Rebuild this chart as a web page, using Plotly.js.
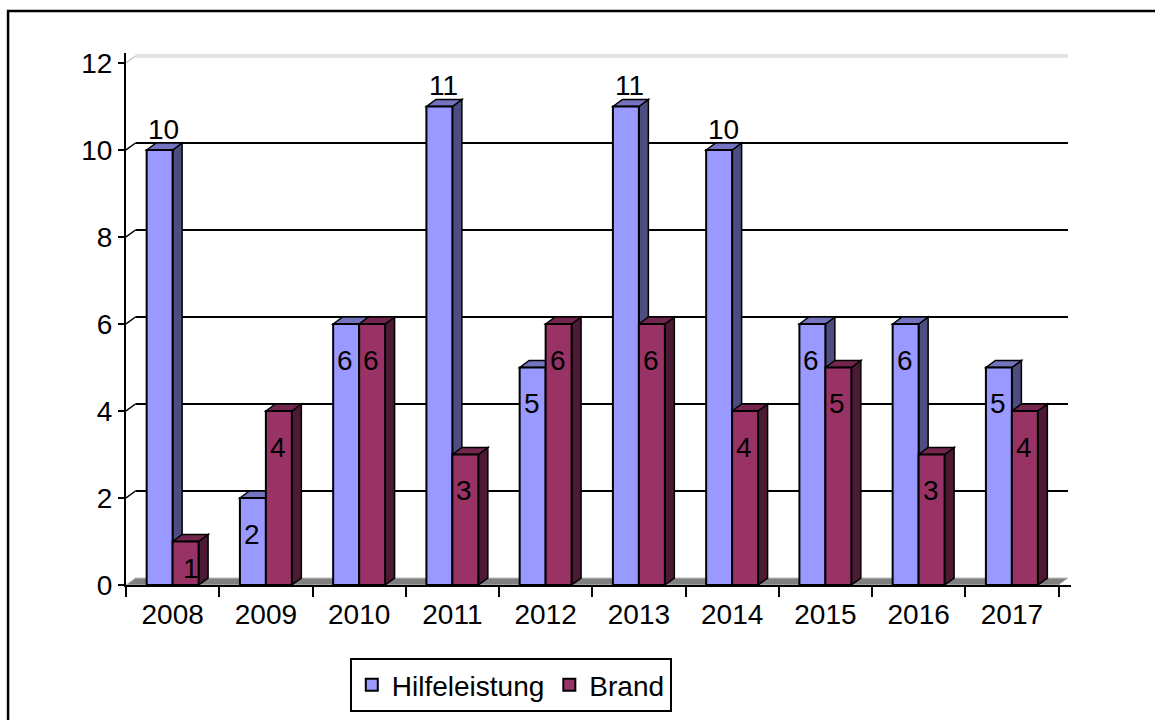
<!DOCTYPE html>
<html>
<head>
<meta charset="utf-8">
<script src="https://cdn.plot.ly/plotly-3.0.1.min.js"></script>
<style>html,body{margin:0;padding:0;background:#fff}#chart{width:1155px;height:720px}</style>
</head>
<body>
<div id="chart"></div>
<script>
// ---- data ----
const years = ['2008','2009','2010','2011','2012','2013','2014','2015','2016','2017'];
const hilfeleistung = [10, 2, 6, 11, 5, 11, 10, 6, 6, 5];
const brand = [1, 4, 6, 3, 6, 6, 4, 5, 3, 4];
const yTicks = [0, 2, 4, 6, 8, 10, 12];
const seriesNames = ['Hilfeleistung', 'Brand'];

// ---- style / geometry ----
const W = 1155, H = 720;
const L = 126, B = 135;
const catPx = 93.3, unitPx = 43.5;
const depthXPx = 9.5, depthYPx = 7, padPx = 3;
const nCat = years.length;
const yMax = yTicks[yTicks.length - 1];
const plotW = nCat * catPx + depthXPx + padPx;
const plotH = yMax * unitPx + depthYPx + padPx;
const R = W - L - plotW;
const T = H - B - plotH;
const dxU = depthXPx / catPx;
const dyU = depthYPx / unitPx;
const xRange = [-0.5, nCat - 0.5 + (depthXPx + padPx) / catPx];
const yRange = [0, yMax + (depthYPx + padPx) / unitPx];
const bargap = 0.443;
const bw = (1 - bargap) / 2;

const FONT = 'Arial, "Liberation Sans", sans-serif';
const FS = 28;
const colors = {
  front: ['#9999FF', '#993366'],
  side:  ['#4D4D80', '#4D1A33'],
  top:   ['#7373BF', '#73264D']
};

const idx = years.map((_, i) => i);
const allSeries = [hilfeleistung, brand];

const traces = allSeries.map((vals, s) => ({
  type: 'bar',
  name: seriesNames[s],
  x: idx,
  y: vals,
  marker: { color: colors.front[s], line: { color: '#000', width: 2 } },
  hoverinfo: 'x+y'
}));

const shapes = [];
// back-wall gridlines
yTicks.forEach(v => {
  if (v === 0) return;
  if (v === yMax) {
    shapes.push({ type: 'line', layer: 'below', xref: 'x', yref: 'y',
      x0: -0.5 + dxU, x1: nCat - 0.5 + dxU, y0: v + dyU, y1: v + dyU,
      line: { color: '#C8C8C8', width: 3 } });
    shapes.push({ type: 'line', layer: 'below', xref: 'x', yref: 'y',
      x0: -0.5 + dxU, x1: nCat - 0.5 + dxU, y0: v + dyU, y1: v + dyU,
      line: { color: '#FFFFFF', width: 1 } });
    shapes.push({ type: 'line', layer: 'below', xref: 'x', yref: 'y',
      x0: -0.5, x1: -0.5 + dxU, y0: v, y1: v + dyU,
      line: { color: '#C8C8C8', width: 1.5 } });
  } else {
    shapes.push({ type: 'line', layer: 'below', xref: 'x', yref: 'y',
      x0: -0.5 + dxU, x1: nCat - 0.5 + dxU, y0: v + dyU, y1: v + dyU,
      line: { color: '#000', width: 2 } });
    shapes.push({ type: 'line', layer: 'below', xref: 'x', yref: 'y',
      x0: -0.5, x1: -0.5 + dxU, y0: v, y1: v + dyU,
      line: { color: '#000', width: 1.5 } });
  }
});
// floor
shapes.push({ type: 'path', layer: 'below', xref: 'x', yref: 'y',
  path: `M ${-0.5},0 L ${-0.5 + dxU},${dyU} L ${nCat - 0.5 + dxU},${dyU} L ${nCat - 0.5},0 Z`,
  fillcolor: '#808080', line: { color: '#C0C0C0', width: 1 } });

// 3D faces of the bars
allSeries.forEach((vals, s) => {
  vals.forEach((v, i) => {
    const c = i + (s === 0 ? -bw / 2 : bw / 2);
    const xl = c - bw / 2, xr = c + bw / 2;
    shapes.push({ type: 'path', layer: 'below', xref: 'x', yref: 'y',
      path: `M ${xr},0 L ${xr + dxU},${dyU} L ${xr + dxU},${v + dyU} L ${xr},${v} Z`,
      fillcolor: colors.side[s], line: { color: '#000', width: 1.5 } });
    shapes.push({ type: 'path', layer: 'below', xref: 'x', yref: 'y',
      path: `M ${xl},${v} L ${xl + dxU},${v + dyU} L ${xr + dxU},${v + dyU} L ${xr},${v} Z`,
      fillcolor: colors.top[s], line: { color: '#000', width: 1.5 } });
  });
});

// outer chart border
shapes.push({ type: 'rect', layer: 'above', xref: 'paper', yref: 'paper',
  x0: (8 - L) / plotW, x1: (W + 20 - L) / plotW,
  y0: -(B + 20) / plotH, y1: (H - B - 11) / plotH,
  line: { color: '#000', width: 2.5 }, fillcolor: 'rgba(0,0,0,0)' });

// data labels
const annotations = [];
allSeries.forEach((vals, s) => {
  vals.forEach((v, i) => {
    const c = i + (s === 0 ? -bw / 2 : bw / 2);
    const above = v >= 10;
    annotations.push({
      x: c, y: v, xref: 'x', yref: 'y', text: String(v), showarrow: false,
      xshift: above ? 4 : (v < 2 ? 5 : -1),
      yshift: above ? 21 : -Math.min(36, v * unitPx * 0.62),
      font: { family: FONT, size: FS, color: '#000' }
    });
  });
});

const layout = {
  width: W, height: H,
  margin: { l: L, r: R, t: T, b: B, pad: 0, autoexpand: false },
  paper_bgcolor: '#fff', plot_bgcolor: 'rgba(0,0,0,0)',
  barmode: 'group', bargap: bargap, bargroupgap: 0,
  font: { family: FONT, size: FS, color: '#000' },
  showlegend: true,
  legend: {
    orientation: 'h', xref: 'paper', yref: 'paper',
    x: (511 - L) / plotW, xanchor: 'center',
    y: -(658 - (H - B)) / plotH, yanchor: 'top',
    bordercolor: '#000', borderwidth: 2, bgcolor: '#fff',
    font: { family: FONT, size: FS, color: '#000' },
    itemwidth: 30, tracegroupgap: 0
  },
  xaxis: {
    type: 'linear', range: xRange, fixedrange: true, automargin: false,
    tickmode: 'array', tickvals: idx, ticktext: years,
    ticks: 'outside', ticklen: 3, tickcolor: 'rgba(0,0,0,0)',
    minor: { tickmode: 'array', tickvals: idx.map(i => i - 0.5).concat([nCat - 0.5]),
             ticks: 'outside', ticklen: 10, tickwidth: 2, tickcolor: '#000', showgrid: false },
    showgrid: false, zeroline: false,
    showline: true, linecolor: '#000', linewidth: 2,
    tickfont: { family: FONT, size: FS, color: '#000' }
  },
  yaxis: {
    type: 'linear', range: yRange, fixedrange: true, automargin: false,
    tickmode: 'array', tickvals: yTicks, ticktext: yTicks.map(String),
    ticks: 'outside', ticklen: 6, tickwidth: 2, tickcolor: '#000',
    showgrid: false, zeroline: false,
    showline: true, linecolor: '#000', linewidth: 2,
    tickfont: { family: FONT, size: FS, color: '#000' }
  },
  shapes: shapes,
  annotations: annotations
};

Plotly.newPlot('chart', traces, layout, { staticPlot: true, displayModeBar: false });
</script>
</body>
</html>
